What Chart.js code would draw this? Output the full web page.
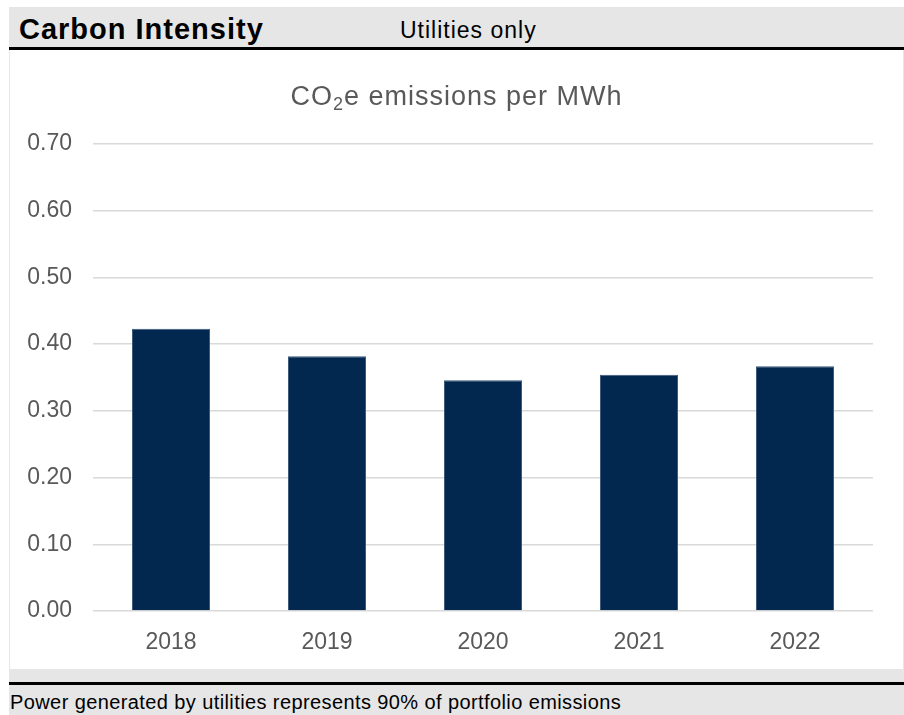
<!DOCTYPE html>
<html>
<head>
<meta charset="utf-8">
<script src="https://cdn.jsdelivr.net/npm/chart.js@4"></script>
<style>
  html, body { margin: 0; padding: 0; background: #fff; }
  body { width: 904px; height: 715px; position: relative; overflow: hidden; font-family: "Liberation Sans", Arial, sans-serif; }
  #frame { position: absolute; left: 9px; top: 7px; width: 895px; height: 708px; background: #e6e6e6; }
  #head-title { position: absolute; left: 10px; top: 6px; font-size: 29px; font-weight: bold; color: #000; letter-spacing: 1px; }
  #head-sub { position: absolute; left: 391px; top: 10px; font-size: 23px; color: #000; letter-spacing: 1px; }
  #rule-top { position: absolute; left: 0; top: 40px; width: 895px; height: 3px; background: #000; }
  #panel { position: absolute; left: 1px; top: 43px; width: 893px; height: 619px; background: #fff; }
  #panel canvas { position: absolute; left: 0; top: 0; }
  #chart-title { position: absolute; left: 0; width: 893px; top: 31px; text-align: center; font-size: 27px; color: #595959; letter-spacing: 1px; }
  #chart-title sub { font-size: 18px; vertical-align: -5px; line-height: 0; }
  #rule-bottom { position: absolute; left: 0; top: 675px; width: 895px; height: 3px; background: #000; }
  #foot { position: absolute; left: 1px; top: 684px; font-size: 20px; color: #000; letter-spacing: 0.4px; }
</style>
</head>
<body>
<div id="frame">
  <div id="head-title">Carbon Intensity</div>
  <div id="head-sub">Utilities only</div>
  <div id="rule-top"></div>
  <div id="panel">
    <canvas id="chart" width="893" height="619"></canvas>
    <div id="chart-title">CO<sub>2</sub>e emissions per MWh</div>
  </div>
  <div id="rule-bottom"></div>
  <div id="foot">Power generated by utilities represents 90% of portfolio emissions</div>
</div>
<script>
const years = ['2018', '2019', '2020', '2021', '2022'];
const intensity = [0.423, 0.382, 0.346, 0.354, 0.367];

const tickColor = '#595959';
const gridColor = '#d9d9d9';

const ctx = document.getElementById('chart').getContext('2d');
const chart = new Chart(ctx, {
  type: 'bar',
  data: {
    labels: years,
    datasets: [
      {
        label: 'CO2e emissions per MWh',
        data: intensity,
        backgroundColor: '#03284f',
        borderColor: '#3d5a7c',
        borderWidth: 1,
        categoryPercentage: 1,
        barPercentage: 0.5,
      },
    ],
  },
  options: {
    responsive: false,
    animation: false,
    layout: { padding: { top: 94, right: 30, bottom: 0, left: 0 } },
    plugins: {
      legend: { display: false },
      tooltip: { enabled: false },
    },
    scales: {
      x: {
        grid: { display: false, drawTicks: false },
        border: { display: false },
        ticks: { color: tickColor, font: { family: 'Liberation Sans', size: 23 }, padding: 18 },
        afterFit: (s) => { s.height = 58; },
      },
      y: {
        min: 0,
        max: 0.7,
        grid: { color: gridColor, lineWidth: 1.5, drawTicks: false },
        border: { display: false },
        ticks: {
          stepSize: 0.1,
          color: tickColor,
          font: { family: 'Liberation Sans', size: 23 },
          padding: 21,
          callback: (v) => Number(v).toFixed(2),
        },
        afterFit: (s) => { s.width = 83; },
      },
    },
  },
});
</script>
</body>
</html>
